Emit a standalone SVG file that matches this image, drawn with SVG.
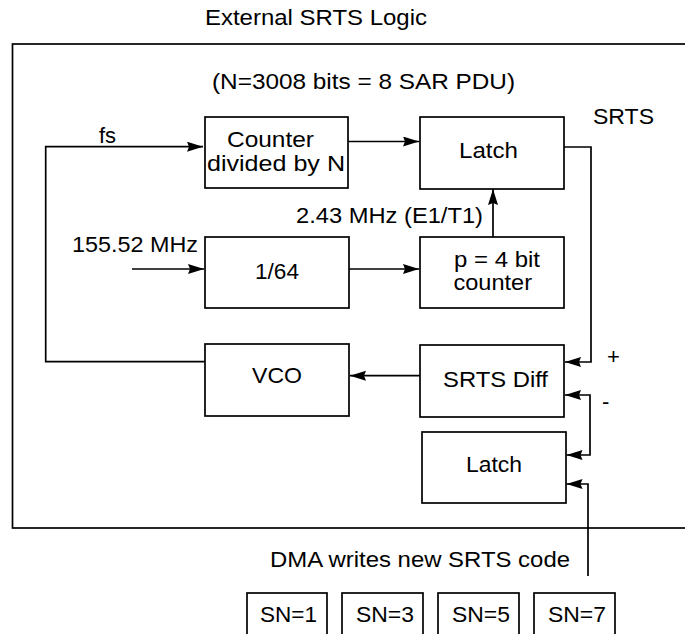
<svg xmlns="http://www.w3.org/2000/svg" width="685" height="634" viewBox="0 0 685 634">
<defs>
<style>
text{font-family:"Liberation Sans",Arial,Helvetica,sans-serif;font-size:22px;fill:#000}
.box{fill:#fff;stroke:#000;stroke-width:1.7}
.ln{fill:none;stroke:#000;stroke-width:1.7}
.ar{fill:none;stroke:#000;stroke-width:1.7;marker-end:url(#ah)}
</style>
<marker id="ah" markerUnits="userSpaceOnUse" markerWidth="17" markerHeight="11" refX="16" refY="5" orient="auto">
<path d="M0,0 L16,5 L0,10 L2,5 z" fill="#000"/>
</marker>
</defs>
<rect width="685" height="634" fill="#fff"/>
<text x="205" y="25" textLength="222" lengthAdjust="spacingAndGlyphs">External SRTS Logic</text>
<rect id="frame" x="12.5" y="44" width="680" height="484" class="ln"/>
<text x="212" y="89" textLength="303" lengthAdjust="spacingAndGlyphs">(N=3008 bits = 8 SAR PDU)</text>
<text x="593" y="124" textLength="61" lengthAdjust="spacingAndGlyphs">SRTS</text>
<text x="99" y="143">fs</text>
<text x="296" y="223" textLength="187" lengthAdjust="spacingAndGlyphs">2.43 MHz (E1/T1)</text>
<text x="72" y="252" textLength="126" lengthAdjust="spacingAndGlyphs">155.52 MHz</text>
<text x="607" y="364">+</text>
<text x="602" y="409">-</text>
<text x="270" y="567" textLength="300" lengthAdjust="spacingAndGlyphs">DMA writes new SRTS code</text>

<g id="connectors">
<polyline class="ar" points="205,361.7 45.7,361.7 45.7,146.7 203,146.7"/>
<line class="ar" x1="348" y1="141.5" x2="419" y2="141.5"/>
<polyline class="ar" points="564,147 591,147 591,362 565,362"/>
<line class="ar" x1="493" y1="237" x2="493" y2="189"/>
<line class="ar" x1="132" y1="269" x2="204" y2="269"/>
<line class="ar" x1="349" y1="269" x2="419" y2="269"/>
<line class="ar" x1="420" y1="375.7" x2="350" y2="375.7"/>
<polyline class="ar" points="590,425 590,395 565,395"/>
<polyline class="ar" points="590,425 590,455 566.5,455"/>
<polyline class="ar" points="588,576 588,484 566.5,484"/>
</g>

<g id="counter">
<rect class="box" x="205" y="117" width="143" height="71"/>
<text x="227" y="147" textLength="87" lengthAdjust="spacingAndGlyphs">Counter</text>
<text x="207" y="171" textLength="138" lengthAdjust="spacingAndGlyphs">divided by N</text>
</g>
<g id="latch1">
<rect class="box" x="420" y="117" width="144" height="72"/>
<text x="459" y="158" textLength="59" lengthAdjust="spacingAndGlyphs">Latch</text>
</g>
<g id="div64">
<rect class="box" x="205" y="237" width="144" height="71"/>
<text x="255" y="279" textLength="44" lengthAdjust="spacingAndGlyphs">1/64</text>
</g>
<g id="pcounter">
<rect class="box" x="420" y="237" width="144" height="71"/>
<text x="454" y="267" textLength="86" lengthAdjust="spacingAndGlyphs">p = 4 bit</text>
<text x="453.5" y="290" textLength="78.5" lengthAdjust="spacingAndGlyphs">counter</text>
</g>
<g id="vco">
<rect class="box" x="205" y="344" width="144" height="72"/>
<text x="252" y="383" textLength="50" lengthAdjust="spacingAndGlyphs">VCO</text>
</g>
<g id="srtsdiff">
<rect class="box" x="420" y="345" width="144" height="72"/>
<text x="443" y="387" textLength="105" lengthAdjust="spacingAndGlyphs">SRTS Diff</text>
</g>
<g id="latch2">
<rect class="box" x="422" y="432" width="144" height="71"/>
<text x="466" y="472" textLength="56" lengthAdjust="spacingAndGlyphs">Latch</text>
</g>
<g id="sn1">
<rect class="box" x="247" y="593" width="80" height="60"/>
<text x="260" y="622" textLength="57" lengthAdjust="spacingAndGlyphs">SN=1</text>
</g>
<g id="sn3">
<rect class="box" x="342" y="593" width="81" height="60"/>
<text x="356" y="622" textLength="58" lengthAdjust="spacingAndGlyphs">SN=3</text>
</g>
<g id="sn5">
<rect class="box" x="438" y="593" width="81" height="60"/>
<text x="452" y="622" textLength="58" lengthAdjust="spacingAndGlyphs">SN=5</text>
</g>
<g id="sn7">
<rect class="box" x="534" y="593" width="81" height="60"/>
<text x="548" y="622" textLength="58" lengthAdjust="spacingAndGlyphs">SN=7</text>
</g>
</svg>
